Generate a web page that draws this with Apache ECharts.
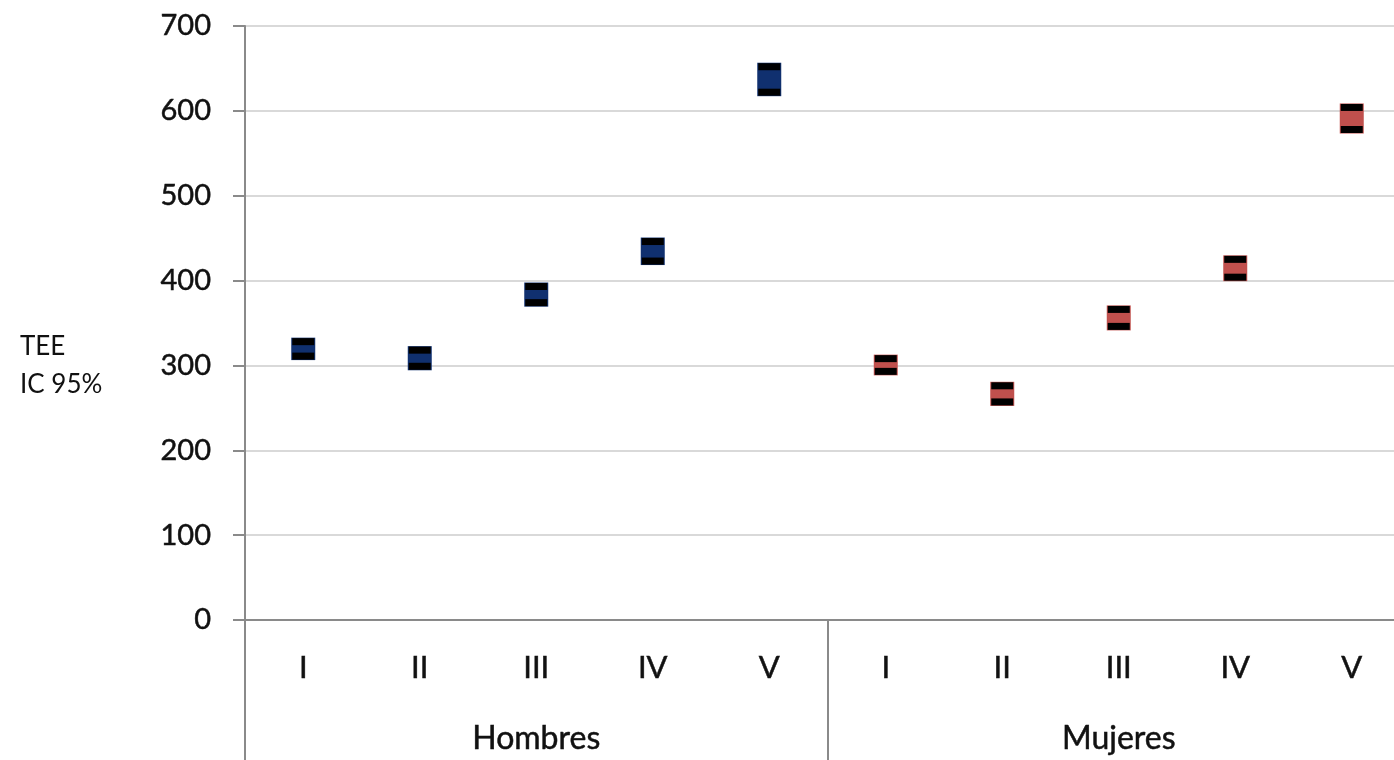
<!DOCTYPE html>
<html>
<head>
<meta charset="utf-8">
<script src="https://cdn.jsdelivr.net/npm/echarts@6/dist/echarts.min.js"></script>
<style>
  html, body { margin: 0; padding: 0; background: #ffffff; overflow: hidden; }
  /* the plot area runs a little past the right edge of the window */
  #chart { width: 1410px; height: 760px; }
</style>
</head>
<body>
<div id="chart"></div>
<script>
// Quintile labels, repeated for each sex group
const categories = ['I', 'II', 'III', 'IV', 'V', 'I', 'II', 'III', 'IV', 'V'];
const groups = ['Hombres', 'Mujeres'];
const yTicks = [0, 100, 200, 300, 400, 500, 600, 700];

// TEE estimate with its 95% confidence interval
const meanValues = [320, 308, 384, 434, 637, 300, 266, 356, 414, 591];
const lowerCI    = [311, 299, 374, 423, 622, 293, 257, 346, 404, 578];
const upperCI    = [328, 318, 393, 446, 652, 308, 276, 366, 425, 604];

const groupColors = ['#10306f', '#c0504d'];

const seriesData = categories.map((c, i) => [i, meanValues[i], lowerCI[i], upperCI[i]]);

const axisGray = '#8a8a8a';
const gridGray = '#d9d9d9';
const textColor = '#111111';
const font = 'Lato, "Open Sans", sans-serif';

// Slight outline so labels render with a heavier stroke
const labelStroke = { textBorderColor: textColor, textBorderWidth: 0.5 };

function renderItem(params, api) {
  const idx = api.value(0);
  const x = api.coord([idx, api.value(1)])[0];
  const yLow = api.coord([idx, api.value(2)])[1];
  const yHigh = api.coord([idx, api.value(3)])[1];
  const color = idx < 5 ? groupColors[0] : groupColors[1];
  const boxW = 24, barW = 22, barH = 7;
  return {
    type: 'group',
    children: [
      {
        type: 'rect',
        shape: { x: x - boxW / 2, y: yHigh - 4, width: boxW, height: (yLow - yHigh) + 8 },
        style: { fill: color }
      },
      {
        type: 'rect',
        shape: { x: x - barW / 2, y: yHigh - 3.5, width: barW, height: barH },
        style: { fill: '#000000' }
      },
      {
        type: 'rect',
        shape: { x: x - barW / 2, y: yLow - 3.5, width: barW, height: barH },
        style: { fill: '#000000' }
      }
    ]
  };
}

const chart = echarts.init(document.getElementById('chart'), null, { renderer: 'canvas' });

chart.setOption({
  animation: false,
  backgroundColor: '#ffffff',
  grid: { left: 245, right: 0, top: 26, bottom: 140, containLabel: false },
  xAxis: [
    {
      type: 'category',
      data: categories,
      position: 'bottom',
      boundaryGap: true,
      axisLine: { show: true, lineStyle: { color: axisGray, width: 2 } },
      axisTick: { show: false },
      axisLabel: Object.assign({ interval: 0, margin: 32, color: textColor, fontSize: 31, fontFamily: font }, labelStroke),
      splitLine: { show: false }
    },
    {
      type: 'category',
      data: groups,
      position: 'bottom',
      boundaryGap: true,
      axisLine: { show: false },
      axisTick: { show: true, interval: 0, length: 140, lineStyle: { color: axisGray, width: 2 } },
      axisLabel: Object.assign({ interval: 0, margin: 103, color: textColor, fontSize: 32, fontFamily: font }, labelStroke),
      splitLine: { show: false }
    }
  ],
  yAxis: {
    type: 'value',
    min: yTicks[0],
    max: yTicks[yTicks.length - 1],
    interval: 100,
    axisLine: { show: true, lineStyle: { color: axisGray, width: 2 } },
    axisTick: { show: true, length: 12, lineStyle: { color: axisGray, width: 2 } },
    axisLabel: Object.assign({ margin: 34, color: textColor, fontSize: 29, fontFamily: font }, labelStroke),
    splitLine: { show: true, lineStyle: { color: gridGray, width: 2 } }
  },
  graphic: [
    {
      type: 'text',
      left: 20,
      top: 328,
      style: {
        text: 'TEE\nIC 95%',
        fill: textColor,
        font: '26px ' + font,
        lineHeight: 38
      }
    }
  ],
  series: [
    {
      type: 'custom',
      xAxisIndex: 0,
      yAxisIndex: 0,
      renderItem: renderItem,
      data: seriesData,
      encode: { x: 0, y: [1, 2, 3] }
    }
  ]
});
</script>
</body>
</html>
